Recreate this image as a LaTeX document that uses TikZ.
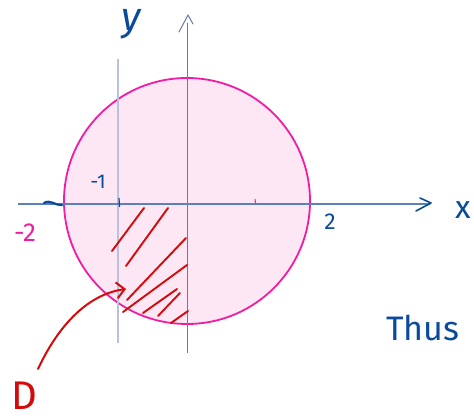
\documentclass[tikz,border=0pt]{standalone}
\usepackage{fontspec}
\setmainfont{Fira Sans}
\usetikzlibrary{arrows.meta}
\definecolor{ink}{HTML}{0A4A9A}
\definecolor{axisblue}{HTML}{5A80C0}
\definecolor{gridblue}{HTML}{6A78A8}
\definecolor{faintblue}{HTML}{B8C2DE}
\definecolor{pinkline}{HTML}{F21CA4}
\definecolor{pinkfill}{HTML}{FDE7F5}
\definecolor{hatchred}{HTML}{D50A0A}
\tikzset{
  hand/.style={line cap=round, line join=round},
  lbl/.style={inner sep=0pt, text=ink},
}
\begin{document}
\begin{tikzpicture}[x=1pt,y=-1pt]
      \useasboundingbox (0,0) rectangle (474,419);
      \draw[pinkline, fill=pinkfill, line width=1.8pt] (187,201) circle (123);
      % axes
      \draw[faintblue, line width=1.3pt] (118,59) -- (118,343);
      \draw[gridblue, line width=1pt] (187,23) -- (187,353);
      \draw[gridblue, line width=1pt, hand] (179,32) -- (188,15) -- (193,24);
      \draw[axisblue, line width=1.1pt] (18,204) -- (430,204);
      \draw[ink, line width=1.6pt, hand] (420,198) -- (431,203) -- (416,211);
      \draw[ink, line width=1.2pt] (119,198) -- (119.5,207);
      \draw[pinkline, line width=1pt] (255,199) -- (255.5,203);
      \draw[ink, line width=2.2pt, hand] (44,203) .. controls (50,199) and (56,206) .. (62,205);
      % hatching of D
      \foreach \xa/\ya/\xb/\yb in {112/251/144/208, 126/266/168/208, 127/300/186/238,
          123/312/187/265, 143/313/177/289, 158/316/180/293, 171/323/188/311} {
        \draw[hatchred, line width=1.9pt, hand] (\xa,\ya) -- (\xb,\yb);
      }
      % labels
      \node[lbl, font=\fontsize{40}{40}\selectfont\itshape] (ylab) at (131,24) {y};
      \node[lbl, font=\fontsize{32}{32}\selectfont] (xlab) at (463,210) {x};
      \node[lbl, font=\fontsize{20}{20}\selectfont] (mone) at (98,182) {-1};
      \node[lbl, text=pinkline, font=\fontsize{26}{26}\selectfont] (mtwo) at (25,233) {-2};
      \node[lbl, font=\fontsize{23}{23}\selectfont] (two) at (330,222) {2};
      \node[lbl, font=\fontsize{34}{34}\selectfont] (thus) at (423,328) {Thus};
      \node[lbl, text=hatchred, font=\fontsize{40}{40}\selectfont] (D) at (24,396) {D};
      % arrow to region
      \coordinate (Dtail) at (38,369);
      \coordinate (Dhead) at (126,289);
      \draw[hatchred, line width=2pt, hand, -{Straight Barb[length=8pt,width=16pt]}]
        (Dtail) .. controls (60,322) and (90,294) .. (Dhead);
\end{tikzpicture}
\end{document}
